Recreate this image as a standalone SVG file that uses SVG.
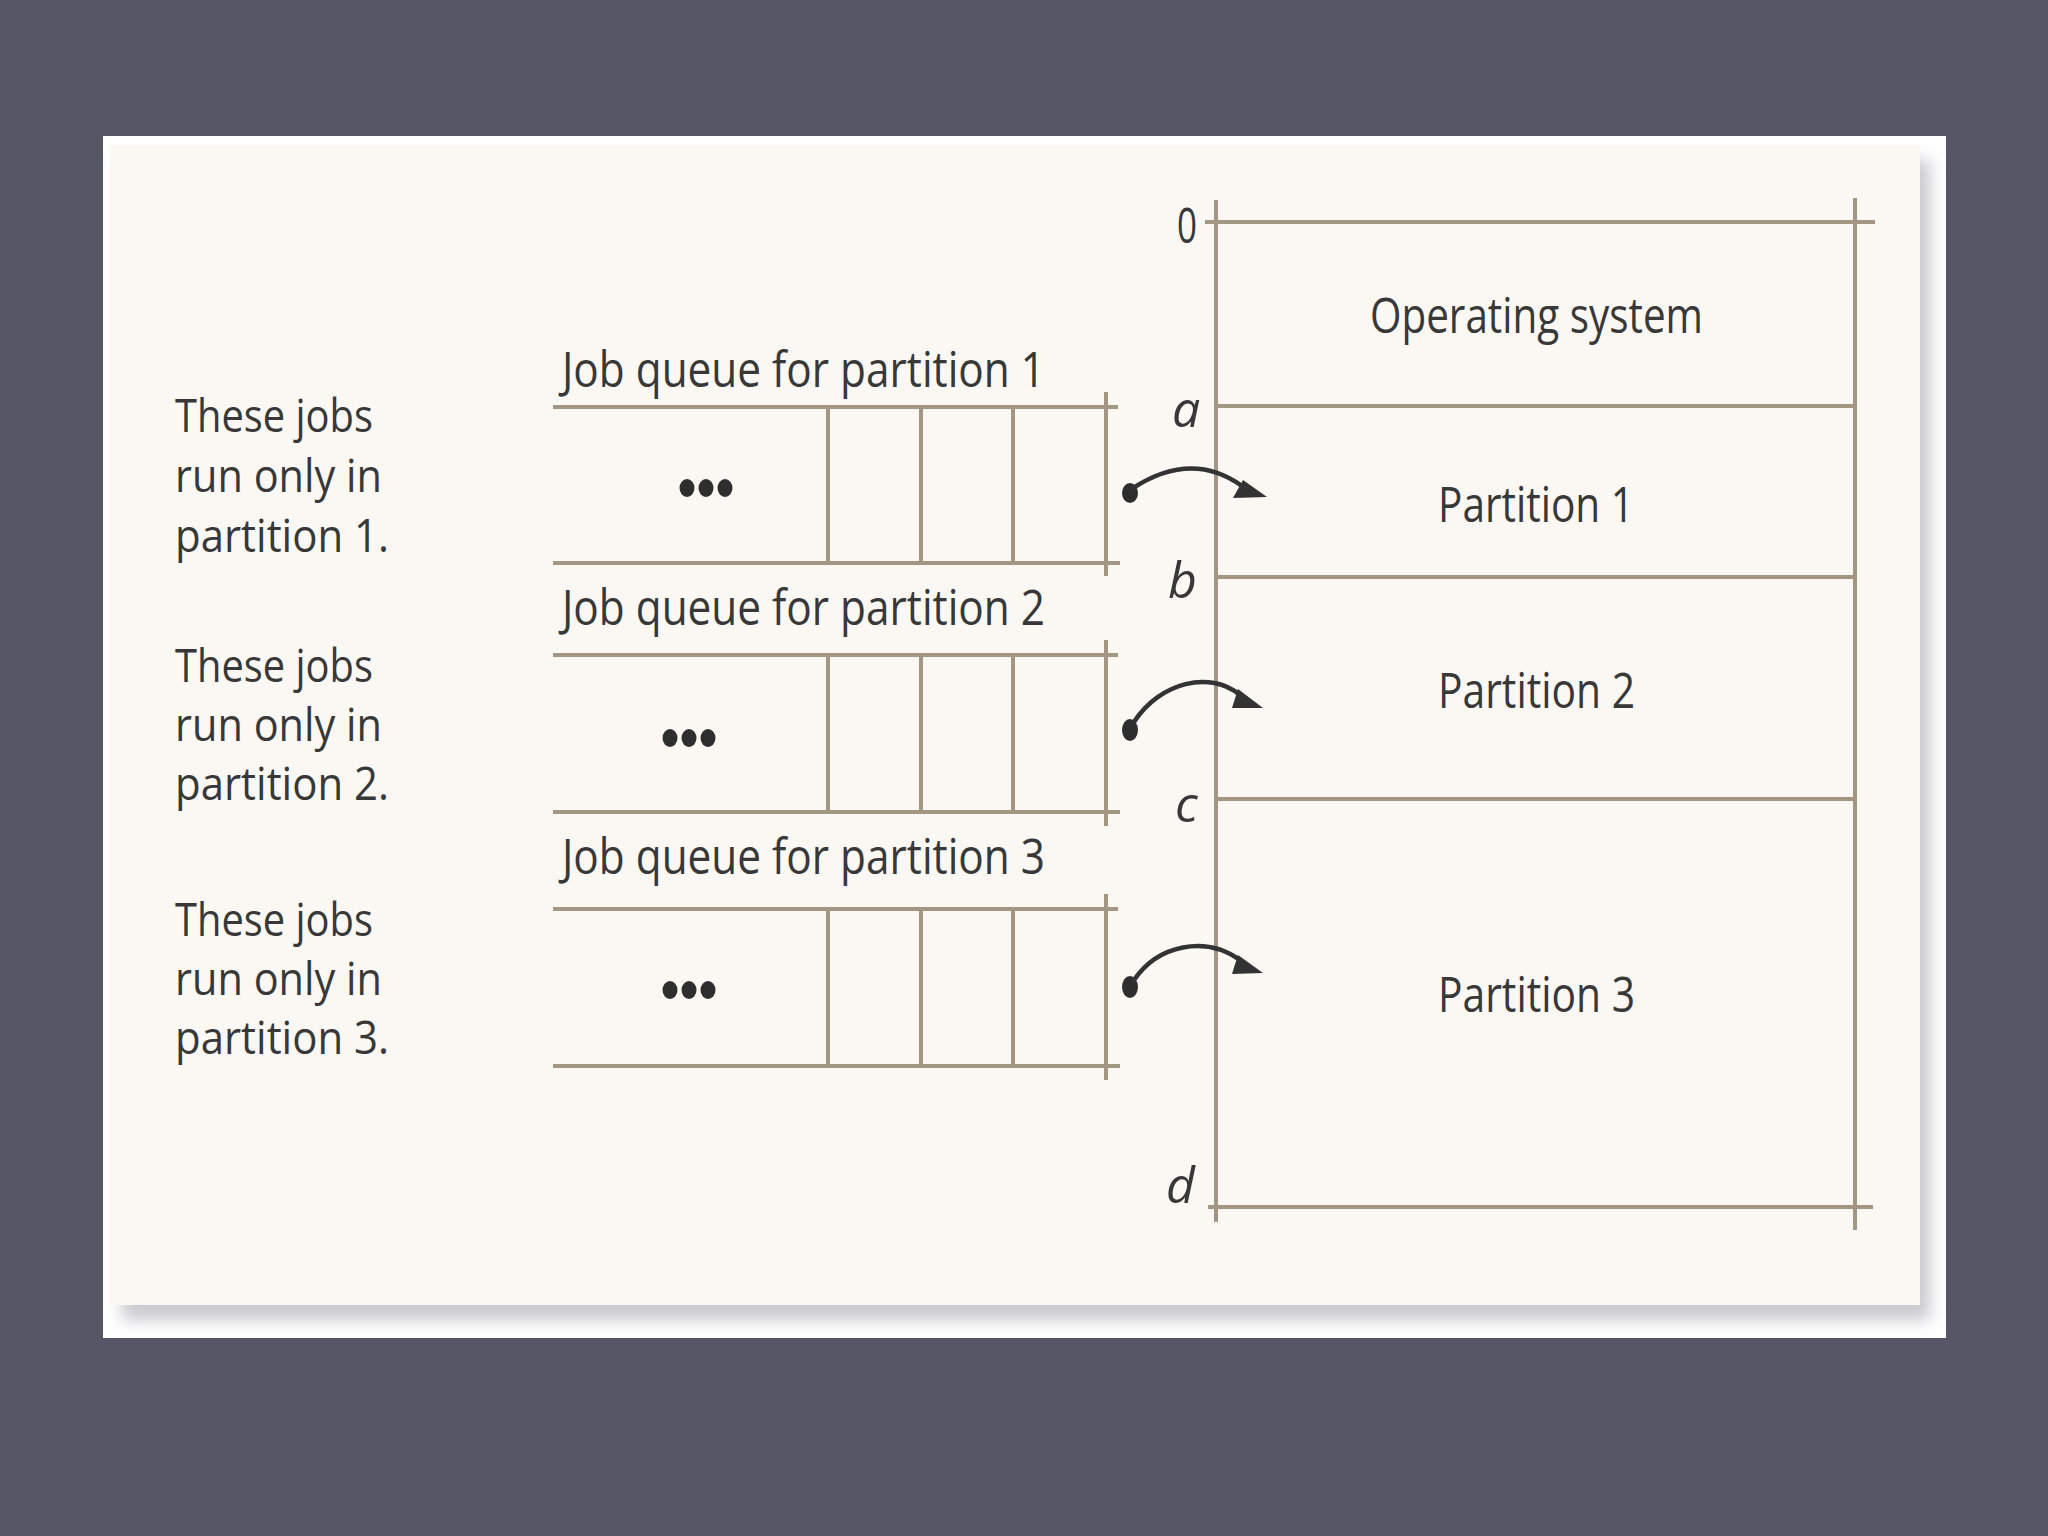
<svg xmlns="http://www.w3.org/2000/svg" width="2048" height="1536" viewBox="0 0 2048 1536">
<defs>
<style>
.ln{stroke:#a39683;stroke-width:4;fill:none;stroke-linecap:butt}
.tx{font-family:"Open Sans","Liberation Sans",sans-serif;font-size:50px;fill:#383838}
.nt{font-family:"Open Sans","Liberation Sans",sans-serif;font-size:45px;fill:#383838}
.it{font-family:"Open Sans","Liberation Sans",sans-serif;font-size:50px;font-style:italic;fill:#383838}
.dot{fill:#2e2e2e}
.cv{stroke:#333;stroke-width:4.5;fill:none;stroke-linecap:round}
.hd{fill:#333}
</style>
<filter id="sh" x="-5%" y="-5%" width="110%" height="110%">
<feGaussianBlur stdDeviation="8"/>
</filter>
</defs>
<rect x="0" y="0" width="2048" height="1536" fill="#575666"/>
<g id="panel">
<rect x="103" y="136" width="1843" height="1202" fill="#ffffff"/>
<rect x="122" y="160" width="1808" height="1160" fill="#c9c9cf" filter="url(#sh)"/>
<rect x="110" y="145" width="1810" height="1160" fill="#fbf8f4"/>
</g>
<g id="memory">
<line class="ln" x1="1216" y1="200" x2="1216" y2="1222"/>
<line class="ln" x1="1855" y1="198" x2="1855" y2="1230"/>
<line class="ln" x1="1205" y1="222" x2="1875" y2="222"/>
<line class="ln" x1="1216" y1="406" x2="1855" y2="406"/>
<line class="ln" x1="1216" y1="577" x2="1855" y2="577"/>
<line class="ln" x1="1216" y1="799" x2="1855" y2="799"/>
<line class="ln" x1="1208" y1="1207" x2="1873" y2="1207"/>
<text class="tx" x="1370" y="333" textLength="333" lengthAdjust="spacingAndGlyphs">Operating system</text>
<text class="tx" x="1438" y="522" textLength="196" lengthAdjust="spacingAndGlyphs">Partition 1</text>
<text class="tx" x="1438" y="708" textLength="197" lengthAdjust="spacingAndGlyphs">Partition 2</text>
<text class="tx" x="1438" y="1012" textLength="197" lengthAdjust="spacingAndGlyphs">Partition 3</text>
<text class="tx" x="1177" y="243" textLength="20" lengthAdjust="spacingAndGlyphs">0</text>
<text class="it" x="1172" y="427">a</text>
<text class="it" x="1168" y="598">b</text>
<text class="it" x="1175" y="822">c</text>
<text class="it" x="1166" y="1203">d</text>
</g>
<g id="queue1">
<text class="tx" x="562" y="387" textLength="483" lengthAdjust="spacingAndGlyphs">Job queue for partition 1</text>
<line class="ln" x1="553" y1="407" x2="1118" y2="407"/>
<line class="ln" x1="553" y1="563" x2="1120" y2="563"/>
<line class="ln" x1="828" y1="407" x2="828" y2="563"/>
<line class="ln" x1="921" y1="407" x2="921" y2="563"/>
<line class="ln" x1="1013" y1="407" x2="1013" y2="563"/>
<line class="ln" x1="1106" y1="392" x2="1106" y2="576"/>
<ellipse class="dot" cx="687" cy="488" rx="7.5" ry="9"/>
<ellipse class="dot" cx="706" cy="488" rx="7.5" ry="9"/>
<ellipse class="dot" cx="725" cy="488" rx="7.5" ry="9"/>
</g>
<g id="queue2">
<text class="tx" x="562" y="625" textLength="483" lengthAdjust="spacingAndGlyphs">Job queue for partition 2</text>
<line class="ln" x1="553" y1="655" x2="1118" y2="655"/>
<line class="ln" x1="553" y1="812" x2="1120" y2="812"/>
<line class="ln" x1="828" y1="655" x2="828" y2="812"/>
<line class="ln" x1="921" y1="655" x2="921" y2="812"/>
<line class="ln" x1="1013" y1="655" x2="1013" y2="812"/>
<line class="ln" x1="1106" y1="640" x2="1106" y2="826"/>
<ellipse class="dot" cx="670" cy="738" rx="7.5" ry="9"/>
<ellipse class="dot" cx="689" cy="738" rx="7.5" ry="9"/>
<ellipse class="dot" cx="708" cy="738" rx="7.5" ry="9"/>
</g>
<g id="queue3">
<text class="tx" x="562" y="874" textLength="483" lengthAdjust="spacingAndGlyphs">Job queue for partition 3</text>
<line class="ln" x1="553" y1="909" x2="1118" y2="909"/>
<line class="ln" x1="553" y1="1066" x2="1120" y2="1066"/>
<line class="ln" x1="828" y1="909" x2="828" y2="1066"/>
<line class="ln" x1="921" y1="909" x2="921" y2="1066"/>
<line class="ln" x1="1013" y1="909" x2="1013" y2="1066"/>
<line class="ln" x1="1106" y1="894" x2="1106" y2="1080"/>
<ellipse class="dot" cx="670" cy="990" rx="7.5" ry="9"/>
<ellipse class="dot" cx="689" cy="990" rx="7.5" ry="9"/>
<ellipse class="dot" cx="708" cy="990" rx="7.5" ry="9"/>
</g>
<g id="note1">
<text class="nt" x="175" y="432" textLength="198" lengthAdjust="spacingAndGlyphs">These jobs</text>
<text class="nt" x="175" y="492" textLength="207" lengthAdjust="spacingAndGlyphs">run only in</text>
<text class="nt" x="175" y="552" textLength="214" lengthAdjust="spacingAndGlyphs">partition 1.</text>
</g>
<g id="note2">
<text class="nt" x="175" y="682" textLength="198" lengthAdjust="spacingAndGlyphs">These jobs</text>
<text class="nt" x="175" y="741" textLength="207" lengthAdjust="spacingAndGlyphs">run only in</text>
<text class="nt" x="175" y="800" textLength="214" lengthAdjust="spacingAndGlyphs">partition 2.</text>
</g>
<g id="note3">
<text class="nt" x="175" y="936" textLength="198" lengthAdjust="spacingAndGlyphs">These jobs</text>
<text class="nt" x="175" y="995" textLength="207" lengthAdjust="spacingAndGlyphs">run only in</text>
<text class="nt" x="175" y="1054" textLength="214" lengthAdjust="spacingAndGlyphs">partition 3.</text>
</g>
<g id="connectors">
<ellipse class="dot" cx="1130" cy="493" rx="8" ry="10"/>
<path class="cv" d="M1133,488 Q1192,450 1242,486"/>
<polygon class="hd" points="1267,497 1233,498 1243,480"/>
<ellipse class="dot" cx="1130" cy="730" rx="8" ry="11"/>
<path class="cv" d="M1134,722 C1160,682 1210,670 1240,695"/>
<polygon class="hd" points="1263,708 1232,708 1238,689"/>
<ellipse class="dot" cx="1130" cy="987" rx="8" ry="11"/>
<path class="cv" d="M1134,980 C1158,945 1205,935 1240,960"/>
<polygon class="hd" points="1263,973 1232,974 1238,955"/>
</g>
</svg>
